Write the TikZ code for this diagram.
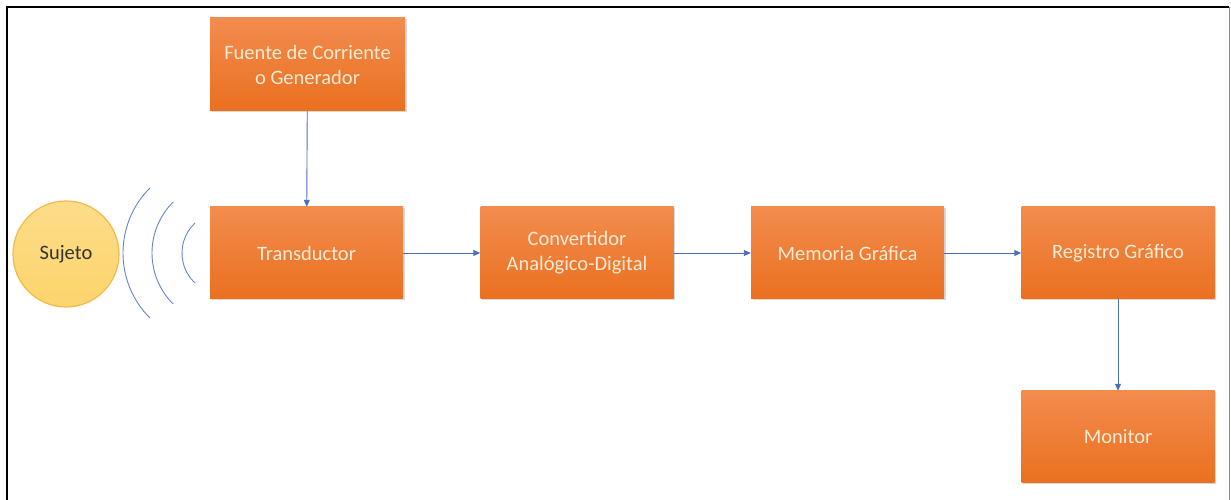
\documentclass[tikz,border=0pt]{standalone}
\usepackage{fontspec}
\setmainfont{Carlito}
\usetikzlibrary{arrows.meta,shadows}
\definecolor{boxtop}{HTML}{F28C4E}
\definecolor{boxbot}{HTML}{EA7020}
\definecolor{boxtext}{HTML}{FDEBD6}
\definecolor{link}{HTML}{4A6FC0}
\definecolor{sujfill}{HTML}{FDD46C}
\definecolor{sujedge}{HTML}{F2BA48}
\begin{document}
\begin{tikzpicture}[x=1pt,y=1pt,
  block/.style={rectangle, minimum width=193pt, minimum height=92pt,
    top color=boxtop, bottom color=boxbot, draw=none,
    drop shadow={shadow xshift=1.5pt, shadow yshift=-1.5pt, opacity=0.25, fill=black!60},
    text=boxtext, align=center, font=\fontsize{20.5}{25}\selectfont, inner sep=2pt},
  link/.style={draw=link, line width=0.9pt, -{Triangle[length=7pt,width=6pt]}},
  wave/.style={draw=link!85, line width=0.9pt}]
\useasboundingbox (0,0) rectangle (1231,500);
% frame
\draw[line width=2.2pt, black] (7,0) -- (7,493) -- (1229,493);
\draw[line width=0.8pt, black!45] (1229,493) -- (1229,0);
% blocks
\node[block, minimum width=195pt, minimum height=93pt] (fuente) at (307.5,435.5) {Fuente de Corriente\\o Generador};
\node[block] (trans) at (306.5,247) {Transductor};
\node[block] (conv) at (577,247) {Convertidor\\Analógico-Digital};
\node[block] (mem) at (847.5,247) {Memoria Gráfica};
\node[block] (reg) at (1118,247) {Registro Gráfico};
\node[block] (mon) at (1118,63) {Monitor};
% subject
\node[circle, minimum size=106pt, inner sep=0pt, draw=sujedge, line width=1.2pt,
  top color=sujfill!80!white, bottom color=sujfill, text=black!80,
  font=\fontsize{20.5}{25}\selectfont] (suj) at (66,246) {Sujeto};
% waves
\draw[wave] (215,247) ++(135:92) arc[start angle=135, end angle=225, radius=92];
\draw[wave] (224,247) ++(135:72) arc[start angle=135, end angle=225, radius=72];
\draw[wave] (223,247) ++(133:41) arc[start angle=133, end angle=227, radius=41];
% connectors
\draw[link] (fuente) -- (trans);
\draw[link] (trans) -- (conv);
\draw[link] (conv) -- (mem);
\draw[link] (mem) -- (reg);
\draw[link] (reg) -- (mon);
\end{tikzpicture}
\end{document}
